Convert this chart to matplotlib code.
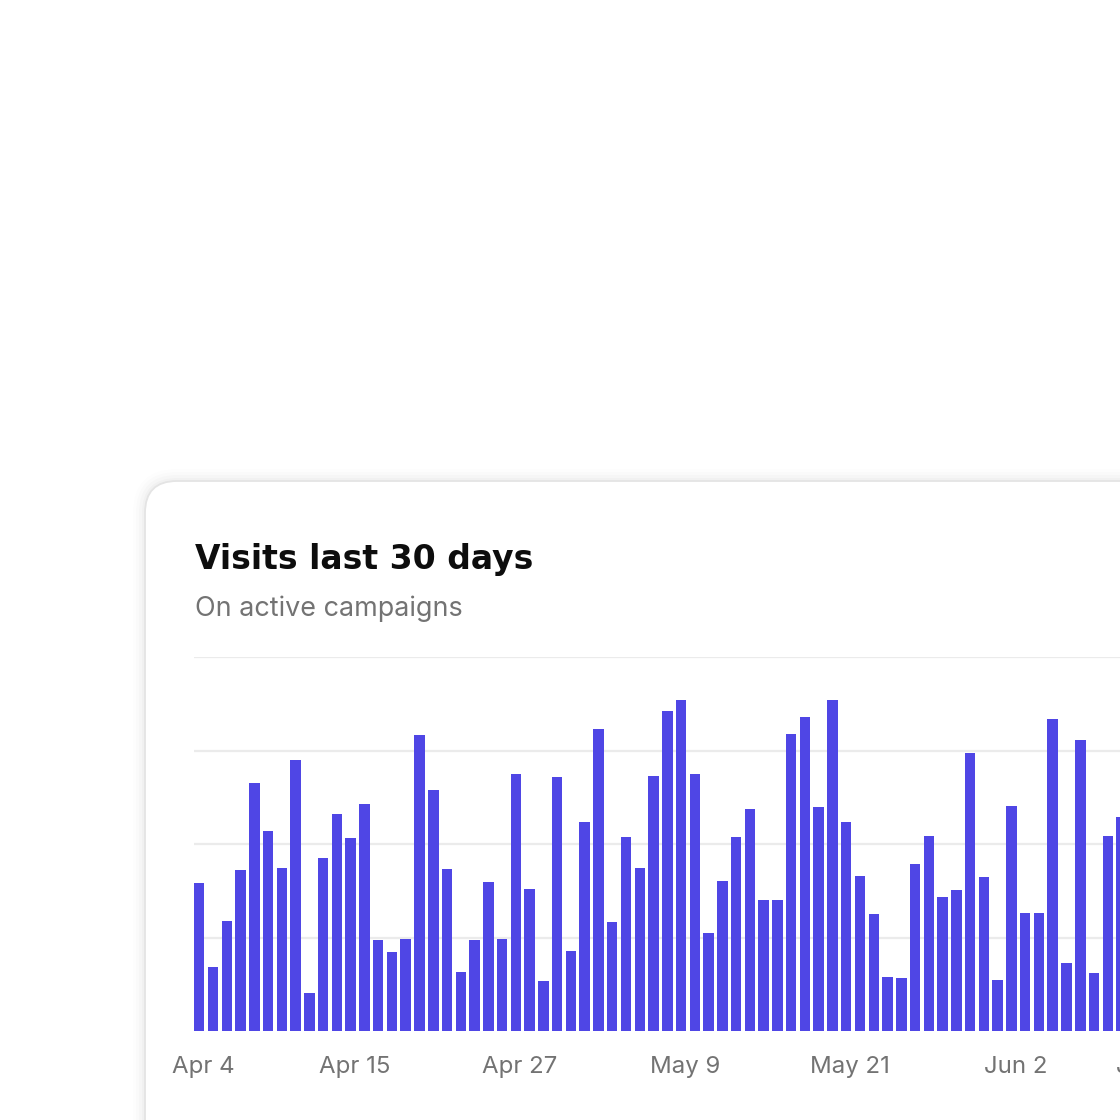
import matplotlib
matplotlib.use("Agg")
import matplotlib.pyplot as plt
from matplotlib.patches import FancyBboxPatch

plt.rcParams["font.family"] = ["Inter", "DejaVu Sans"]

# daily visits, starting Apr 4 (the chart is cut off at the right)
visits = [158, 69, 118, 172, 265, 214, 174, 290, 41, 185,
          232, 207, 243, 97, 85, 98, 317, 258, 173, 63,
          97, 159, 98, 275, 152, 53, 272, 86, 224, 323,
          117, 208, 175, 273, 342, 354, 275, 105, 161, 208,
          238, 140, 140, 318, 336, 240, 354, 224, 166, 125,
          58, 57, 179, 209, 143, 151, 298, 165, 55, 241,
          126, 126, 334, 73, 312, 62, 209, 229]
tick_days = [0, 11, 23, 35, 47, 59, 69]
tick_labels = ["Apr 4", "Apr 15", "Apr 27", "May 9", "May 21", "Jun 2", "Jun 12"]
grid_values = [100, 200, 300, 400]

W = 1120
fig = plt.figure(figsize=(11.2, 11.2), dpi=100)
fig.patch.set_facecolor("white")

# card with a soft shadow
for i, a in enumerate([0.018, 0.014, 0.010, 0.006]):
    g = (i + 1) * 3
    sh = FancyBboxPatch(((145 - g) / W, -0.2), 1.3, 1 - (481 - g) / W + 0.2,
                        boxstyle="round,pad=0,rounding_size=%f" % ((32 + g) / W),
                        transform=fig.transFigure, facecolor="black", alpha=a,
                        edgecolor="none", zorder=-3)
    fig.patches.append(sh)
card = FancyBboxPatch((145 / W, -0.2), 1.3, 1 - 481 / W + 0.2,
                      boxstyle="round,pad=0,rounding_size=%f" % (32 / W),
                      transform=fig.transFigure, facecolor="white",
                      edgecolor="#e4e4e4", linewidth=1.3, zorder=-2)
fig.patches.append(card)

fig.text(195 / W, 1 - 569 / W, "Visits last 30 days", fontsize=23.8,
         family=["DejaVu Sans"], fontweight="bold", color="#0d0d0d",
         va="baseline", ha="left")
fig.text(195 / W, 1 - 616 / W, "On active campaigns", fontsize=19.4,
         color="#737373", va="baseline", ha="left")

# plot area: bar pitch 13.766 px, x starts at left edge of first bar
pitch = 13.766
x0 = -0.381
x1 = 69.7
ax = fig.add_axes([194 / W, (W - 1031) / W, (x1 - x0) * pitch / W, 373.7 / W])
ax.set_facecolor("none")
ax.bar(range(len(visits)), visits, width=0.763, color="#4f46e5", zorder=3)
ax.set_xlim(x0, x1)
ax.set_ylim(0, 400)

ax.set_yticks(grid_values)
ax.yaxis.grid(True, color="#ebebeb", linewidth=1.6)
ax.set_axisbelow(True)
ax.tick_params(axis="y", left=False, labelleft=False)

# labels sit a few px right of the bar centre
ax.set_xticks([d + 0.29 for d in tick_days], tick_labels)
ax.tick_params(axis="x", length=0, pad=30.2, labelsize=17.3, labelcolor="#737373")
for lab in ax.get_xticklabels():
    lab.set_verticalalignment("baseline")

for s in ax.spines.values():
    s.set_visible(False)

fig.savefig("out.png", dpi=100)
